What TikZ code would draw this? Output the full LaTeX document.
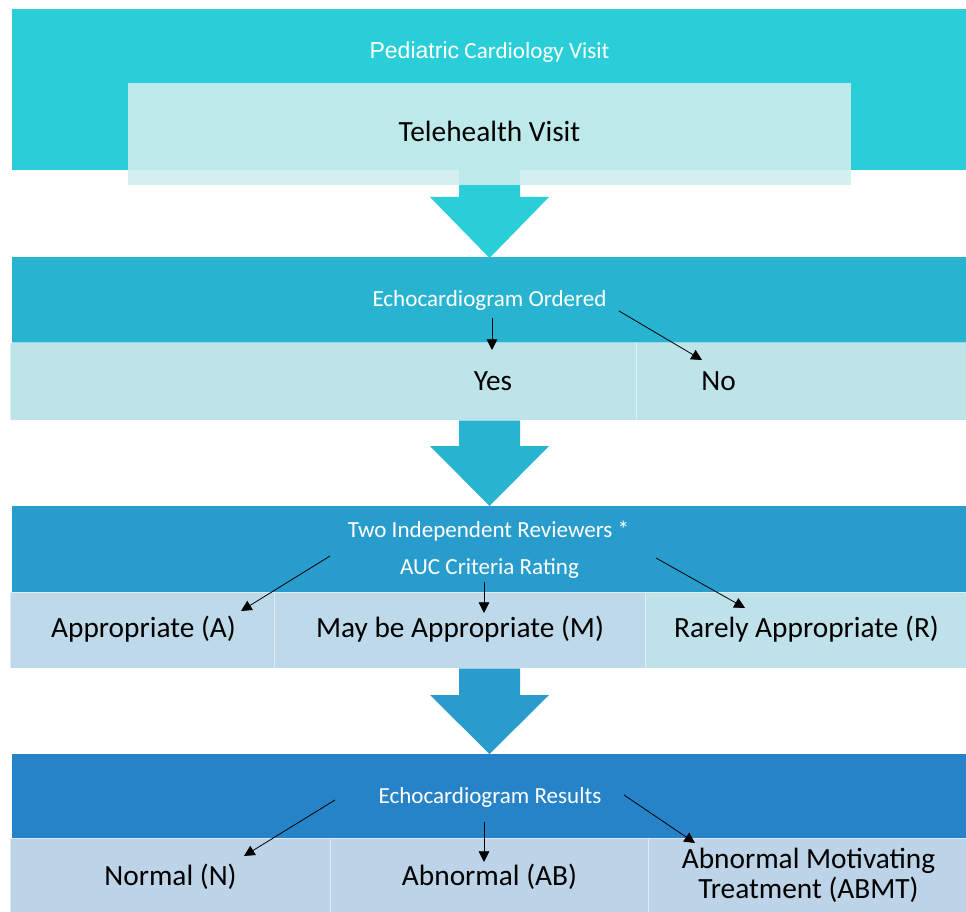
\documentclass[tikz,border=0pt]{standalone}
\usepackage{fontspec}
\setmainfont{Carlito}
\newfontfamily\arialfont{Liberation Sans}
\usetikzlibrary{arrows.meta}
\definecolor{bandA}{HTML}{29CED8}
\definecolor{bandB}{HTML}{28B3D0}
\definecolor{bandC}{HTML}{299CCE}
\definecolor{bandD}{HTML}{2683C7}
\definecolor{teleFill}{RGB}{207,237,238}
\definecolor{cellB}{HTML}{BEE4EA}
\definecolor{cellC}{HTML}{BED9E9}
\definecolor{cellCr}{HTML}{BFE1EA}
\definecolor{cellD}{HTML}{BDD3E8}
\tikzset{title/.style={text=white,font=\fontsize{17.3}{20}\selectfont,inner sep=0pt,anchor=base},label/.style={font=\fontsize{22}{22.5}\selectfont,align=center,inner sep=0pt},cell/.style={draw=white,draw opacity=.5,line width=.75pt},pointer/.style={-{Triangle[length=8pt,width=8pt]},line width=.6pt}}

\begin{document}
\begin{tikzpicture}[x=0.75pt,y=-0.75pt]
\useasboundingbox (0,0) rectangle (966,912);
% bands
\fill[bandA] (12,9) rectangle (966,170);
\fill[bandB] (12,257) rectangle (966,343);
\fill[bandC] (12,506) rectangle (966,592);
\fill[bandD] (12,754) rectangle (966,838);
% block arrows between the bands
\foreach \ys/\yh/\yt/\c in {170/197/258/bandA,420/446/506/bandB,668/695/754/bandC}
  \fill[\c] (459,\ys) -- (520,\ys) -- (520,\yh) -- (549,\yh) -- (489.5,\yt) -- (430,\yh) -- (459,\yh) -- cycle;
% answer rows
\fill[teleFill,fill opacity=.9] (128,83) rectangle (851,185);
\filldraw[cell,fill=cellB] (10,343) rectangle (636,420);
\filldraw[cell,fill=cellB] (636,343) rectangle (966,420);
\filldraw[cell,fill=cellC] (10,592) rectangle (274,668);
\filldraw[cell,fill=cellC] (274,592) rectangle (645,668);
\filldraw[cell,fill=cellCr] (645,592) rectangle (966,668);
\filldraw[cell,fill=cellD] (10,838) rectangle (330,912);
\filldraw[cell,fill=cellD] (330,838) rectangle (648,912);
\filldraw[cell,fill=cellD] (648,838) rectangle (966,912);
% texts
\node[title] (pcv) at (489.5,59) {{\arialfont Pediatric} Cardiology Visit};
\node[label,anchor=base] (tele) at (489.5,142) {Telehealth Visit};
\node[title] (ordered) at (489.5,307) {Echocardiogram Ordered};
\node[label,anchor=base] (yes) at (493,391) {Yes};
\node[label,anchor=base] (no) at (718.5,391) {No};
\node[title] (reviewers) at (488.5,537) {Two Independent Reviewers *};
\node[title] (auc) at (489.5,574) {AUC Criteria Rating};
\node[label,anchor=base] (appr) at (143.5,637) {Appropriate (A)};
\node[label,anchor=base] (maybe) at (460,637) {May be Appropriate (M)};
\node[label,anchor=base] (rarely) at (806.5,637) {Rarely Appropriate (R)};
\node[title] (results) at (490,803) {Echocardiogram Results};
\node[label,anchor=base] (normal) at (170.5,885) {Normal (N)};
\node[label,anchor=base] (abnormal) at (489.5,885) {Abnormal (AB)};
\node[label] (abmt) at (808.5,875) {Abnormal Motivating\\Treatment (ABMT)};
% pointer ends
\coordinate (ordA) at (492,318); \coordinate (yesT) at (492,350);
\coordinate (ordB) at (619,311); \coordinate (noT) at (702,360);
\coordinate (revA) at (330,556); \coordinate (apprT) at (241,611);
\coordinate (revB) at (484,582); \coordinate (maybeT) at (484,613);
\coordinate (revC) at (656,558); \coordinate (rarelyT) at (745,608);
\coordinate (resA) at (335,800); \coordinate (normalT) at (244,856);
\coordinate (resB) at (484,822); \coordinate (abnormalT) at (484,862);
\coordinate (resC) at (624,795); \coordinate (abmtT) at (695,843);
\draw[pointer] (ordA)--(yesT); \draw[pointer] (ordB)--(noT);
\draw[pointer] (revA)--(apprT); \draw[pointer] (revB)--(maybeT); \draw[pointer] (revC)--(rarelyT);
\draw[pointer] (resA)--(normalT); \draw[pointer] (resB)--(abnormalT); \draw[pointer] (resC)--(abmtT);
\end{tikzpicture}
\end{document}
